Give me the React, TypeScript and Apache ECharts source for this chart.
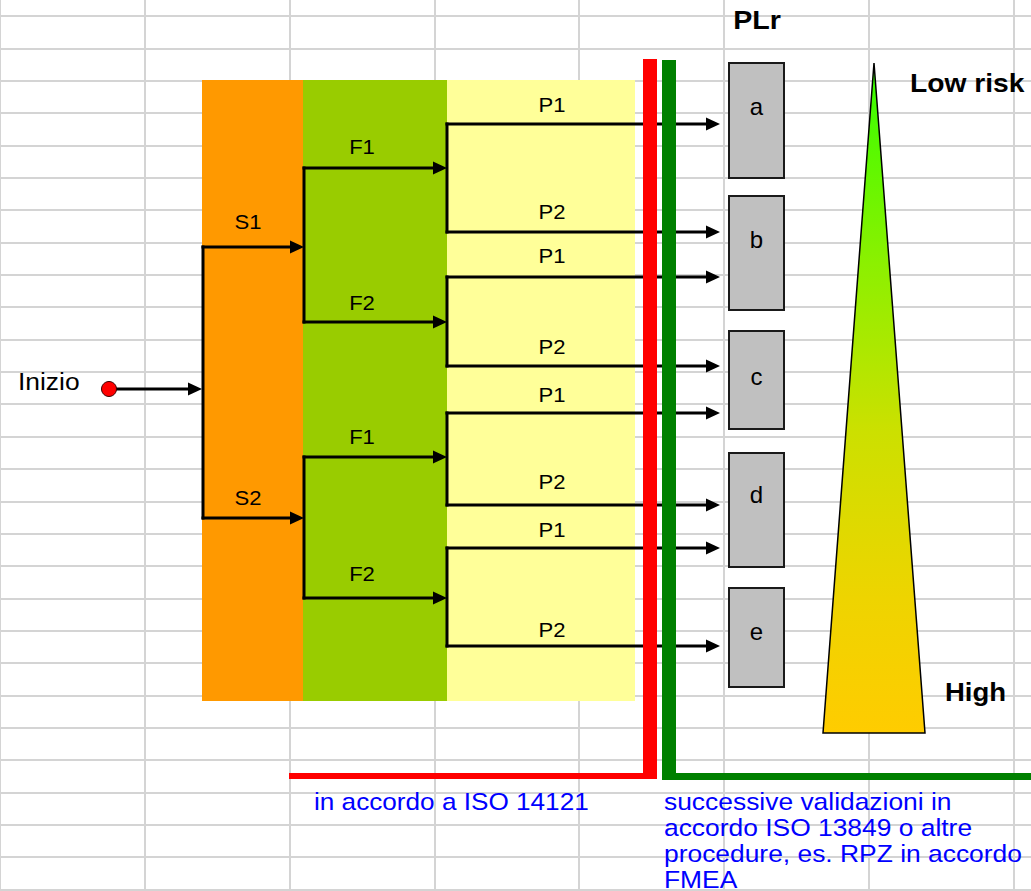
import React, { useEffect, useRef } from "react";
import * as echarts from "echarts";

// ---- content (labels / categories) ----
const startLabel = "Inizio";
const severityLabels = ["S1", "S2"];
const frequencyLabels = ["F1", "F2"];
const possibilityLabels = ["P1", "P2"];
const plrTitle = "PLr";
const plrLevels = ["a", "b", "c", "d", "e"];
const riskLabels = ["Low risk", "High"];
const noteLeft = ["in accordo a ISO 14121"];
const noteRight = [
  "successive validazioni in",
  "accordo ISO 13849 o altre",
  "procedure, es. RPZ in accordo",
  "FMEA",
];

// ---- layout (pixel-unit coordinates on the value axes) ----
const FONT = "'Liberation Sans', Arial, Helvetica, sans-serif";
const bandEdges = [202, 303, 447, 635];
const bandTop = 80;
const bandBottom = 701;
const bandColors = ["#FF9900", "#99CC00", "#FFFF99"];
const startPos = { x: 109, y: 389, labelX: 18, labelY: 381 };
const trunkX = 203;
const sevY = [247, 518];
const sevLabelY = [222, 498];
const freqX = 304;
const freqY = [
  [168, 322],
  [457, 598],
];
const freqLabelY = [
  [147, 303],
  [437, 574],
];
const possX = 447;
const possY = [
  [
    [124, 232],
    [277, 366],
  ],
  [
    [413, 505],
    [548, 646],
  ],
];
const possLabelY = [
  [
    [105, 212],
    [256, 347],
  ],
  [
    [395, 482],
    [530, 630],
  ],
];
const arrowTipX = 720;
const boxX = [729, 784];
const boxY = [
  [63, 178],
  [196, 310],
  [331, 429],
  [453, 567],
  [588, 687],
];
const boxLabelY = [106, 239, 376, 494, 631];

function renderItem(params: any, api: any) {
  const P = (x: number, y: number) => api.coord([x, y]);
  const ch: any[] = [];

  const rect = (x0: number, y0: number, x1: number, y1: number, style: any) => {
    const a = P(x0, y0);
    const b = P(x1, y1);
    ch.push({
      type: "rect",
      shape: { x: a[0], y: a[1], width: b[0] - a[0], height: b[1] - a[1] },
      style,
    });
  };
  const line = (x1: number, y1: number, x2: number, y2: number) => {
    const a = P(x1, y1);
    const b = P(x2, y2);
    ch.push({
      type: "line",
      shape: { x1: a[0], y1: a[1], x2: b[0], y2: b[1] },
      style: { stroke: "#000", lineWidth: 3, lineCap: "square" },
    });
  };
  const arrow = (x1: number, y: number, x2: number) => {
    line(x1, y, x2 - 10, y);
    const tip = P(x2, y);
    const b1 = P(x2 - 14, y - 6.5);
    const b2 = P(x2 - 14, y + 6.5);
    ch.push({
      type: "polygon",
      shape: { points: [tip, b1, b2] },
      style: { fill: "#000" },
    });
  };
  const text = (
    x: number,
    y: number,
    str: string,
    o: { size: number; weight?: string; color?: string; align?: string; sx?: number }
  ) => {
    const p = P(x, y);
    ch.push({
      type: "text",
      x: p[0],
      y: p[1],
      scaleX: o.sx ?? 1,
      style: {
        text: str,
        fill: o.color ?? "#000",
        fontSize: o.size,
        fontWeight: o.weight ?? "normal",
        fontFamily: FONT,
        align: o.align ?? "center",
        verticalAlign: "middle",
      },
    });
  };

  // colored bands
  bandColors.forEach((c, i) => {
    rect(bandEdges[i], bandTop, bandEdges[i + 1], bandBottom, { fill: c });
  });

  // start point + arrow to trunk
  arrow(startPos.x, startPos.y, trunkX - 1);

  // severity
  line(trunkX, sevY[0], trunkX, sevY[1]);
  sevY.forEach((y) => arrow(trunkX, y, freqX));

  // frequency
  freqY.forEach((pair) => {
    line(freqX, pair[0], freqX, pair[1]);
    pair.forEach((y) => arrow(freqX, y, possX));
  });

  // possibility
  possY.forEach((grp) =>
    grp.forEach((pair) => {
      line(possX, pair[0], possX, pair[1]);
      pair.forEach((y) => arrow(possX, y, arrowTipX));
    })
  );

  // start dot
  const dp = P(startPos.x, startPos.y);
  ch.push({
    type: "circle",
    shape: { cx: dp[0], cy: dp[1], r: 7.5 },
    style: { fill: "#FF0000", stroke: "#3a0000", lineWidth: 1 },
  });

  // red / green boundaries
  rect(643, 59, 657, 779, { fill: "#FF0000" });
  rect(289, 773, 657, 779, { fill: "#FF0000" });
  rect(662, 60, 676, 780, { fill: "#008000" });
  rect(662, 773, 1031, 780, { fill: "#008000" });

  // PLr boxes
  boxY.forEach((yy, i) => {
    rect(boxX[0], yy[0], boxX[1], yy[1], { fill: "#C0C0C0", stroke: "#1a1a1a", lineWidth: 2 });
    text((boxX[0] + boxX[1]) / 2, boxLabelY[i], plrLevels[i], { size: 24 });
  });

  // risk triangle
  ch.push({
    type: "polygon",
    shape: { points: [P(874, 63), P(925, 733), P(823, 733)] },
    style: {
      fill: new echarts.graphic.LinearGradient(0, 0, 0, 1, [
        { offset: 0, color: "#33FF00" },
        { offset: 0.3, color: "#8CF000" },
        { offset: 0.55, color: "#CCE000" },
        { offset: 0.8, color: "#EED400" },
        { offset: 1, color: "#FFCC00" },
      ]),
      stroke: "#000",
      lineWidth: 1.5,
    },
  });

  // texts
  text(757, 20, plrTitle, { size: 26, weight: "bold", sx: 1.1 });
  text(910, 84, riskLabels[0], { size: 25, weight: "bold", align: "left", sx: 1.13 });
  text(945, 692, riskLabels[1], { size: 25, weight: "bold", align: "left", sx: 1.1 });
  text(startPos.labelX, startPos.labelY, startLabel, { size: 24, align: "left", sx: 1.1 });

  severityLabels.forEach((s, i) => text(248, sevLabelY[i], s, { size: 21, sx: 1.05 }));
  freqLabelY.forEach((pair) =>
    pair.forEach((y, j) => text(362, y, frequencyLabels[j], { size: 21, sx: 1.05 }))
  );
  possLabelY.forEach((grp) =>
    grp.forEach((pair) =>
      pair.forEach((y, j) => text(552, y, possibilityLabels[j], { size: 21, sx: 1.05 }))
    )
  );

  noteLeft.forEach((s, i) =>
    text(314, 801 + i * 26, s, { size: 24, color: "#0000FF", align: "left", sx: 1.09 })
  );
  noteRight.forEach((s, i) =>
    text(664, 801 + i * 26, s, { size: 24, color: "#0000FF", align: "left", sx: 1.1 })
  );

  return { type: "group", children: ch };
}

export default function App() {
  const ref = useRef<HTMLDivElement>(null);
  useEffect(() => {
    if (!ref.current) return;
    const chart = echarts.init(ref.current, null, { renderer: "svg" });
    const hidden = {
      axisLine: { show: false },
      axisTick: { show: false },
      axisLabel: { show: false },
    };
    const gridLine = {
      show: true,
      showMaxLine: false,
      lineStyle: { color: "#d4d4d4", width: 2 },
    };
    chart.setOption({
      animation: false,
      backgroundColor: "#ffffff",
      grid: [
        { left: 0, right: 0, top: 0, bottom: 0 },
        { left: 0, right: 0, top: 16, bottom: 0 },
      ],
      xAxis: [
        { type: "value", gridIndex: 0, min: 0, max: 1031, interval: 144.8, ...hidden, splitLine: gridLine },
        { type: "value", gridIndex: 1, min: 0, max: 1031, show: false, splitLine: { show: false } },
      ],
      yAxis: [
        { type: "value", gridIndex: 0, min: 0, max: 891, inverse: true, show: false, splitLine: { show: false } },
        { type: "value", gridIndex: 1, min: 0, max: 875, interval: 32.35, inverse: true, ...hidden, splitLine: gridLine },
      ],
      series: [
        {
          type: "custom",
          xAxisIndex: 0,
          yAxisIndex: 0,
          renderItem,
          data: [[0, 0]],
          silent: true,
        },
      ],
    });
    return () => chart.dispose();
  }, []);
  return (
    <div
      ref={ref}
      style={{ position: "fixed", left: 0, top: 0, width: 1031, height: 891 }}
    />
  );
}
